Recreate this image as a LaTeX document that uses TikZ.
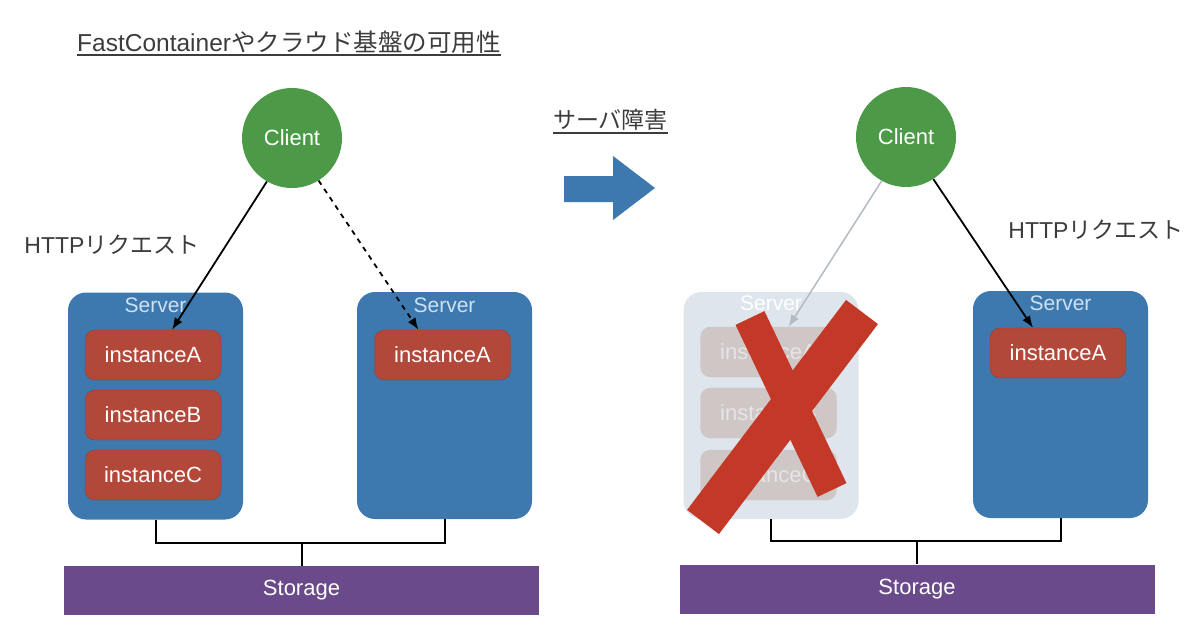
\documentclass[tikz,border=0pt]{standalone}
\usepackage{fontspec}
\setmainfont{Liberation Sans}
\newfontfamily\jp{Noto Sans CJK JP}
\usetikzlibrary{arrows.meta}
\definecolor{clientGreen}{RGB}{76,153,72}
\definecolor{serverBlue}{RGB}{61,121,175}
\definecolor{instRed}{RGB}{178,72,58}
\definecolor{storePurple}{RGB}{106,74,138}
\definecolor{deadBlue}{RGB}{222,229,236}
\definecolor{deadInst}{RGB}{207,198,198}
\definecolor{crossRed}{RGB}{196,56,40}
\definecolor{textGray}{RGB}{60,60,60}

\begin{document}
\begin{tikzpicture}
      [ x=1pt, y=-1pt
      , client/.style={circle, fill=clientGreen, minimum size=100pt, text=white, font=\fontsize{22}{26}\selectfont}
      , server/.style={fill=serverBlue, rounded corners=18pt, minimum width=175pt, minimum height=227pt}
      , deadServer/.style={server, fill=deadBlue}
      , srvText/.style={text={rgb,255:red,205;green,225;blue,242}, font=\fontsize{21}{25}\selectfont}
      , inst/.style={fill=instRed, draw=instRed!85!black, rounded corners=10pt, minimum width=136pt, minimum height=50pt, text=white, font=\fontsize{22}{26}\selectfont}
      , deadInst/.style={inst, fill=deadInst, draw=deadInst, text={rgb,255:red,232;green,228;blue,228}}
      , storage/.style={fill=storePurple, minimum width=475pt, minimum height=49pt, text=white, font=\fontsize{22}{26}\selectfont}
      , title/.style={inner sep=0pt, text=textGray, font=\fontsize{24.5}{29}\selectfont}
      , note/.style={text=textGray, font=\fontsize{23}{27}\selectfont}
      , request/.style={draw, line width=1.8pt, -{Latex[length=12pt,width=9pt]}}
      , lost/.style={request, draw={rgb,255:red,178;green,186;blue,194}, line width=1.5pt}
      , bus/.style={draw, line width=2pt}
      , cross/.style={draw=crossRed, line width=40pt}
      ]
    \useasboundingbox (0,0) rectangle (1200,629);

    % titles
    \node[title, anchor=base west] (T1) at (77,51) {FastContainer{\jp やクラウド基盤の可用性}};
    \draw[textGray, line width=1.5pt] ([yshift=-4pt]T1.base west) -- ([yshift=-4pt]T1.base east);
    \node[title, anchor=base west, font=\fontsize{23}{27}\selectfont] (T2) at (553,128) {\jp サーバ障害};
    \draw[textGray, line width=1.5pt] ([yshift=-5pt]T2.base west) -- ([yshift=-5pt]T2.base east);

    \fill[serverBlue] (564,176) -- (613,176) -- (613,156) -- (655,188) -- (613,220) -- (613,202) -- (564,202) -- cycle;

    % before
    \node[client] (CL) at (292,138) {Client};
    \node[note] (HL) at (112,245) {HTTP{\jp リクエスト}};
    \node[server] (SL1) at (155.5,406) {};
    \node[srvText] at (155.5,305) {Server};
    \node[inst] (IA1) at (153,355) {instanceA};
    \node[inst] (IB1) at (153,415) {instanceB};
    \node[inst] (IC1) at (153,475) {instanceC};
    \node[server] (SL2) at (444.5,405.5) {};
    \node[srvText] at (444.5,305) {Server};
    \node[inst] (IA2) at (442.5,355) {instanceA};
    \node[storage] (STL) at (301.5,590.5) {Storage};
    \coordinate (JL) at (301.5,543);

    \draw[request] (CL.240) -- ([xshift=19pt]IA1.north);
    \draw[request, dash pattern=on 5pt off 5pt] (CL.302) -- ([xshift=-24pt]IA2.north);
    \draw[bus] (SL1.south) |- (JL) -| (SL2.south);
    \draw[bus] (JL) -- (STL.north);

    % after
    \node[client] (CR) at (906,137) {Client};
    \node[note] (HR) at (1096,230) {HTTP{\jp リクエスト}};
    \node[deadServer] (SR1) at (771,405.5) {};
    \node[srvText, text=white] at (771,303) {Server};
    \node[deadInst] (IA3) at (768.5,352) {instanceA};
    \node[deadInst] (IB3) at (768.5,413) {instanceB};
    \node[deadInst] (IC3) at (768.5,475) {instanceC};
    \node[server] (SR2) at (1060.5,404.5) {};
    \node[srvText] at (1060.5,303) {Server};
    \node[inst] (IA4) at (1058,353) {instanceA};
    \node[storage] (STR) at (917,589) {Storage};
    \coordinate (JR) at (917,541);

    \draw[lost] (CR.241) -- ([xshift=20pt]IA3.north);
    \draw[request] (CR.303) -- ([xshift=-25pt]IA4.north);
    \draw[bus] (SR1.south) |- (JR) -| (SR2.south);
    \draw[bus] (JR) -- (STR.north);

    % the failed server
    \draw[cross] (703,522) -- (862,312);
    \draw[cross, line width=32pt] (750,318) -- (832,490);
  \end{tikzpicture}
\end{document}
